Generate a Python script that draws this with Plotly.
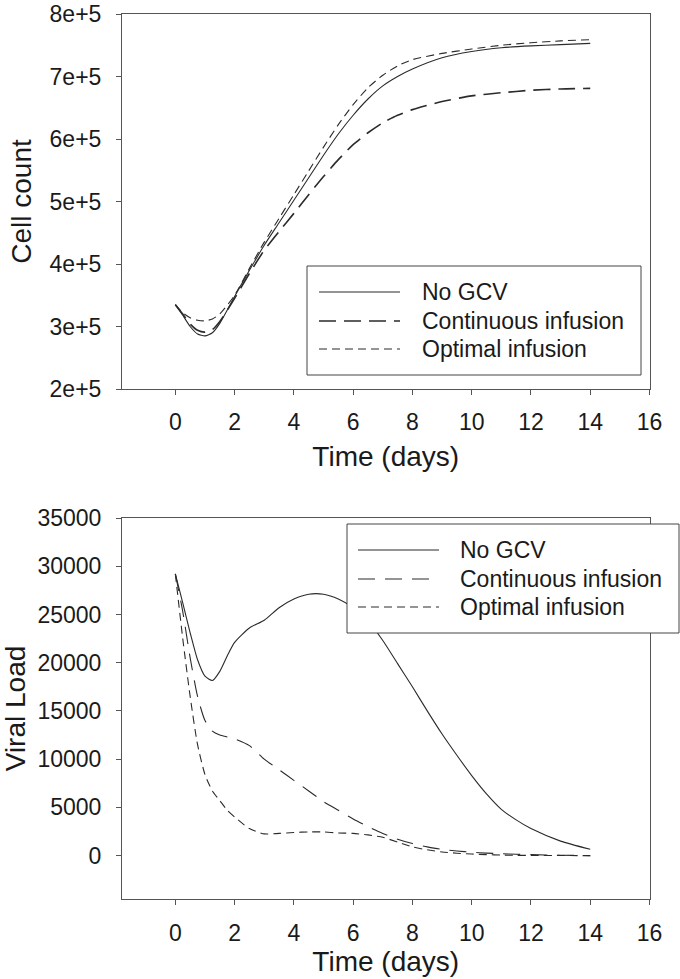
import plotly.graph_objects as go

# ---------------- data ----------------
series_names = ["No GCV", "Continuous infusion", "Optimal infusion"]

t_cells = [0, 0.25, 0.5, 0.75, 1, 1.25, 1.5, 2, 2.5, 3, 3.5, 4, 4.5, 5, 5.5, 6,
           6.5, 7, 7.5, 8, 9, 10, 11, 12, 13, 14]
cells_no_gcv = [3.35e5, 3.18e5, 3.0e5, 2.88e5, 2.85e5, 2.9e5, 3.05e5, 3.48e5, 3.9e5,
                4.3e5, 4.66e5, 5.02e5, 5.38e5, 5.74e5, 6.08e5, 6.38e5, 6.64e5, 6.85e5,
                7.0e5, 7.12e5, 7.3e5, 7.4e5, 7.46e5, 7.49e5, 7.51e5, 7.53e5]
cells_continuous = [3.35e5, 3.2e5, 3.04e5, 2.94e5, 2.91e5, 2.95e5, 3.08e5, 3.45e5, 3.85e5,
                    4.22e5, 4.52e5, 4.81e5, 5.11e5, 5.4e5, 5.67e5, 5.91e5, 6.1e5, 6.26e5,
                    6.38e5, 6.47e5, 6.6e5, 6.69e5, 6.74e5, 6.78e5, 6.8e5, 6.81e5]
cells_optimal = [3.35e5, 3.22e5, 3.14e5, 3.1e5, 3.09e5, 3.12e5, 3.2e5, 3.5e5, 3.93e5,
                 4.35e5, 4.73e5, 5.11e5, 5.49e5, 5.87e5, 6.23e5, 6.55e5, 6.82e5, 7.02e5,
                 7.17e5, 7.27e5, 7.37e5, 7.44e5, 7.5e5, 7.54e5, 7.57e5, 7.59e5]

t_virus = [0, 0.25, 0.5, 0.75, 1, 1.25, 1.5, 1.75, 2, 2.5, 3, 3.5, 4, 4.5, 5, 5.5, 6, 6.5,
           7, 7.5, 8, 8.5, 9, 9.5, 10, 10.5, 11, 11.5, 12, 13, 14]
virus_no_gcv = [29200, 26200, 23100, 20300, 18600, 18150, 19100, 20700, 22100, 23600,
                24400, 25700, 26600, 27100, 27100, 26600, 25700, 24300, 22300, 19900,
                17500, 15000, 12600, 10400, 8300, 6400, 4800, 3700, 2800, 1500, 650]
virus_continuous = [29200, 25300, 20500, 16500, 14000, 12900, 12500, 12300, 12100, 11400,
                    10000, 8900, 7800, 6700, 5600, 4700, 3800, 3000, 2300, 1700, 1250,
                    900, 650, 480, 350, 260, 190, 140, 100, 40, 0]
virus_optimal = [29200, 22500, 16500, 11500, 8400, 6700, 5700, 4700, 4000, 2800, 2250,
                 2300, 2400, 2450, 2450, 2350, 2300, 2150, 1900, 1400, 900, 600, 380,
                 250, 160, 100, 60, 30, 20, 5, 0]

x_ticks = [0, 2, 4, 6, 8, 10, 12, 14, 16]
cell_ticks = [2e5, 3e5, 4e5, 5e5, 6e5, 7e5, 8e5]
cell_tick_text = ["2e+5", "3e+5", "4e+5", "5e+5", "6e+5", "7e+5", "8e+5"]
virus_ticks = [0, 5000, 10000, 15000, 20000, 25000, 30000, 35000]

# ---------------- style ----------------
W, H = 680, 979
FONT = "Liberation Sans, Arial, sans-serif"
LINE_COL = "#2b2b2b"
AX_COL = "#555555"
TXT_COL = "#1a1a1a"
FS = 23

def px(x):
    return x / W

def py(y):
    return 1 - y / H

styles_top = [dict(dash="solid", width=1.1), dict(dash="17px,8px", width=1.6),
              dict(dash="8px,5px", width=1.1)]
styles_bot = [dict(dash="solid", width=1.1), dict(dash="17px,10px", width=1.1),
              dict(dash="8px,5px", width=1.1)]

fig = go.Figure()
for name, ys, st in zip(series_names, [cells_no_gcv, cells_continuous, cells_optimal], styles_top):
    fig.add_trace(go.Scatter(x=t_cells, y=ys, mode="lines", name=name, showlegend=False,
                             line=dict(color=LINE_COL, shape="spline", smoothing=0.6, **st),
                             xaxis="x", yaxis="y"))
for name, ys, st in zip(series_names, [virus_no_gcv, virus_continuous, virus_optimal], styles_bot):
    fig.add_trace(go.Scatter(x=t_virus, y=ys, mode="lines", name=name, showlegend=False,
                             line=dict(color=LINE_COL, shape="spline", smoothing=0.6, **st),
                             xaxis="x2", yaxis="y2"))

common_x = dict(range=[-1.8, 16], tickvals=x_ticks, ticks="outside", ticklen=5,
                tickcolor=AX_COL, showline=True, linecolor=AX_COL, linewidth=1, mirror=True,
                showgrid=False, zeroline=False, tickfont=dict(size=FS, color=TXT_COL),
                automargin=False, ticklabeloverflow="allow", domain=[px(122), px(649.5)])
common_y = dict(ticks="outside", ticklen=5, tickcolor=AX_COL, showline=True,
                linecolor=AX_COL, linewidth=1, mirror=True, showgrid=False, zeroline=False,
                tickfont=dict(size=FS, color=TXT_COL), automargin=False,
                ticklabeloverflow="allow", ticklabelstandoff=10)

fig.update_layout(
    width=W, height=H,
    margin=dict(l=0, r=0, t=0, b=0),
    paper_bgcolor="white", plot_bgcolor="white",
    font=dict(family=FONT, size=FS, color=TXT_COL),
    showlegend=False,
    xaxis=dict(anchor="y", ticklabelstandoff=7, title=dict(text="Time (days)", standoff=12),
               **common_x),
    yaxis=dict(anchor="x", domain=[py(389), py(14)], range=[2e5, 8e5], tickvals=cell_ticks,
               ticktext=cell_tick_text, title=dict(text="Cell count", standoff=9), **common_y),
    xaxis2=dict(anchor="y2", ticklabelstandoff=8, title=dict(text="Time (days)", standoff=0),
                **common_x),
    yaxis2=dict(anchor="x2", domain=[py(899), py(518)], range=[-4500, 35000],
                tickvals=virus_ticks, ticktext=[str(v) for v in virus_ticks],
                title=dict(text="Viral Load", standoff=6), **common_y),
)

# ---------------- legends (box, line samples, labels) ----------------
def add_legend(box, sample_x, rows, text_x, styles):
    x0, y0, x1, y1 = box
    fig.add_shape(type="rect", xref="paper", yref="paper", x0=px(x0), x1=px(x1),
                  y0=py(y1), y1=py(y0), line=dict(color="#444444", width=1),
                  fillcolor="white", layer="above")
    for name, ry, st in zip(series_names, rows, styles):
        fig.add_shape(type="line", xref="paper", yref="paper", x0=px(sample_x[0]),
                      x1=px(sample_x[1]), y0=py(ry), y1=py(ry),
                      line=dict(color=LINE_COL, **st), layer="above")
        fig.add_annotation(xref="paper", yref="paper", x=px(text_x), y=py(ry), text=name,
                           showarrow=False, xanchor="left", yanchor="middle",
                           font=dict(size=FS, color=TXT_COL, family=FONT))

add_legend((307, 266, 641, 375), (319, 400), (292, 321, 349), 420, styles_top)
add_legend((347, 524, 679, 633), (358, 439), (550, 579, 607), 458, styles_bot)

fig.write_html("out.html", config={"displayModeBar": False},
               post_script="document.body.style.margin='0';document.body.style.overflow='hidden';")
